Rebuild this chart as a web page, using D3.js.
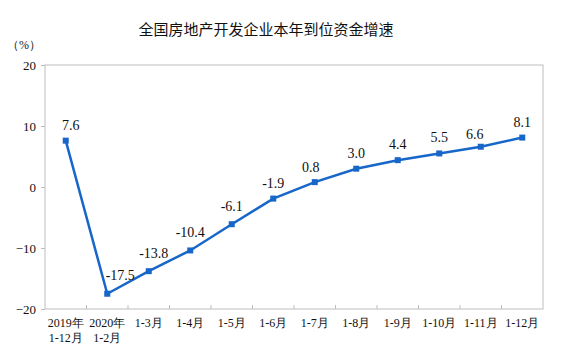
<!DOCTYPE html>
<html><head><meta charset="utf-8">
<script src="https://cdn.jsdelivr.net/npm/d3@7/dist/d3.min.js"></script>
<style>body{margin:0;background:#fff}svg{display:block}
.s{font-family:"Liberation Serif","Times New Roman",serif}
.t{font-family:"Noto Sans CJK SC",sans-serif}
</style>
</head><body>
<svg id="c" width="579" height="357"></svg>
<script>
const categories = [["2019年","1-12月"],["2020年","1-2月"],["1-3月"],["1-4月"],["1-5月"],["1-6月"],["1-7月"],["1-8月"],["1-9月"],["1-10月"],["1-11月"],["1-12月"]];
const values = [7.6, -17.5, -13.8, -10.4, -6.1, -1.9, 0.8, 3.0, 4.4, 5.5, 6.6, 8.1];
const yTicks = [-20, -10, 0, 10, 20];
const title = "全国房地产开发企业本年到位资金增速";
const unit = "（%）";

const svg = d3.select("#c");
const L = 45, R = 543, T = 65, B = 309;
const x = d3.scaleBand().domain(d3.range(categories.length)).range([L, R]);
const y = d3.scaleLinear().domain([-20, 20]).range([B, T]);

svg.append("text").attr("class", "t").attr("x", 266).attr("y", 35).attr("text-anchor", "middle")
  .attr("font-size", 15).attr("fill", "#111").text(title);
svg.append("text").attr("class", "s").attr("x", 24).attr("y", 49).attr("text-anchor", "middle")
  .attr("font-size", 12).attr("fill", "#222").text(unit);

// frame
svg.append("rect").attr("x", L).attr("y", T).attr("width", R - L).attr("height", B - T)
  .attr("fill", "none").attr("stroke", "#bdbdbd").attr("stroke-width", 1);

// y axis
const ya = svg.append("g").attr("transform", `translate(${L},0)`)
  .call(d3.axisLeft(y).tickValues(yTicks).tickSize(4).tickPadding(5));
ya.attr("font-family", null);
ya.select(".domain").remove();
ya.selectAll("line").attr("stroke", "#bdbdbd");
ya.selectAll("text").attr("class", "s").attr("font-size", 13).attr("fill", "#111");

// x ticks (inside, at band boundaries)
const bounds = d3.range(1, categories.length).map(i => x(i));
svg.append("g").selectAll("line").data(bounds).join("line")
  .attr("x1", d => d).attr("x2", d => d).attr("y1", B).attr("y2", B - 4)
  .attr("stroke", "#bdbdbd");

// x labels
const xl = svg.append("g").selectAll("text").data(categories).join("text")
  .attr("class", "s")
  .attr("x", (d, i) => x(i) + x.bandwidth() / 2).attr("y", 327)
  .attr("text-anchor", "middle").attr("font-size", 12).attr("fill", "#111");
xl.selectAll("tspan").data(d => d).join("tspan")
  .attr("x", function () { return this.parentNode.getAttribute("x"); })
  .attr("dy", (d, i) => i === 0 ? 0 : 15).text(d => d);

const cx = i => x(i) + x.bandwidth() / 2;
const color = "#1766c9";
svg.append("path").datum(values)
  .attr("d", d3.line().x((d, i) => cx(i)).y(d => y(d)))
  .attr("fill", "none").attr("stroke", color).attr("stroke-width", 2.5);
svg.append("g").selectAll("rect").data(values).join("rect")
  .attr("x", (d, i) => cx(i) - 3).attr("y", d => y(d) - 3).attr("width", 6).attr("height", 6).attr("fill", color);

const dxs = {0: 5, 1: 13, 2: 5, 6: -4, 10: -6};
const dys = {1: -14, 2: -13, 3: -13, 4: -13, 10: -8, 6: -10};
svg.append("g").selectAll("text").data(values).join("text")
  .attr("class", "s")
  .attr("x", (d, i) => cx(i) + (dxs[i] || 0))
  .attr("y", (d, i) => y(d) + (dys[i] || -11))
  .attr("text-anchor", "middle").attr("font-size", 14).attr("fill", "#111")
  .text(d => d.toFixed(1));
</script>
</body></html>
